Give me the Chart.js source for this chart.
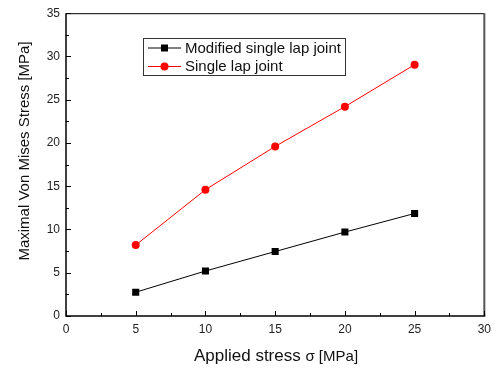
<!DOCTYPE html>
<html>
<head>
<meta charset="utf-8">
<script src="https://cdn.jsdelivr.net/npm/chart.js@4/dist/chart.umd.min.js"></script>
<style>
  html, body { margin: 0; padding: 0; background: #fff; }
  #wrap { width: 497px; height: 369px; }
</style>
</head>
<body>
<div id="wrap"><canvas id="c" width="497" height="369"></canvas></div>
<script>
// Applied stress levels [MPa]
const appliedStress = [5, 10, 15, 20, 25];
// Maximal von Mises stress [MPa] for each joint design
const modifiedJoint = [2.75, 5.2, 7.45, 9.7, 11.85];
const singleJoint = [8.2, 14.6, 19.6, 24.2, 29.05];
const seriesLabels = ['Modified single lap joint', 'Single lap joint'];
const xTitleMain = 'Applied stress ';
const xTitleUnit = '\u03c3 [MPa]';
const yTitle = 'Maximal Von Mises Stress [MPa]';

const FONT = "'Liberation Sans', Arial, sans-serif";

const toPoints = (ys) => ys.map((y, i) => ({ x: appliedStress[i], y }));

// Frame, inward ticks, axis titles and boxed legend
const decorations = {
  id: 'decorations',
  afterDraw(chart) {
    const ctx = chart.ctx;
    const { left, right, top, bottom } = chart.chartArea;
    const xs = chart.scales.x, ys = chart.scales.y;
    ctx.save();

    // frame
    ctx.strokeStyle = '#000';
    ctx.lineWidth = 1;
    ctx.beginPath();
    ctx.moveTo(left, top + 0.5); ctx.lineTo(right, top + 0.5);
    ctx.stroke();
    ctx.strokeStyle = '#555';
    ctx.lineWidth = 2;
    ctx.beginPath();
    ctx.moveTo(right, top); ctx.lineTo(right, bottom);
    ctx.stroke();
    ctx.strokeStyle = '#000';
    ctx.lineWidth = 1.5;
    ctx.beginPath();
    ctx.moveTo(left, top); ctx.lineTo(left, bottom);
    ctx.lineTo(right + 1, bottom);
    ctx.stroke();

    // inward ticks
    ctx.lineWidth = 1;
    ctx.beginPath();
    for (let v = 0; v <= 30.001; v += 2.5) {
      const px = Math.round(xs.getPixelForValue(v)) + 0.5;
      const len = (Math.abs(v % 5) < 1e-6) ? 5 : 3;
      ctx.moveTo(px, bottom); ctx.lineTo(px, bottom - len);
    }
    for (let v = 0; v <= 35.001; v += 2.5) {
      const py = Math.round(ys.getPixelForValue(v)) + 0.5;
      const len = (Math.abs(v % 5) < 1e-6) ? 5 : 3;
      ctx.moveTo(left, py); ctx.lineTo(left + len, py);
    }
    ctx.stroke();

    // y title
    ctx.fillStyle = '#111';
    ctx.font = '15px ' + FONT;
    ctx.textAlign = 'center';
    ctx.textBaseline = 'middle';
    ctx.save();
    ctx.translate(25, 151);
    ctx.rotate(-Math.PI / 2);
    ctx.fillText(yTitle, 0, 0);
    ctx.restore();

    // x title with smaller unit part
    ctx.textAlign = 'left';
    ctx.textBaseline = 'alphabetic';
    ctx.font = '17px ' + FONT;
    const w1 = ctx.measureText(xTitleMain).width;
    ctx.font = '15px ' + FONT;
    const w2 = ctx.measureText(xTitleUnit).width;
    let x0 = 276 - (w1 + w2) / 2;
    ctx.font = '17px ' + FONT;
    ctx.fillText(xTitleMain, x0, 361);
    ctx.font = '15px ' + FONT;
    ctx.fillText(xTitleUnit, x0 + w1, 361);

    // legend
    const bx = 143.5, by = 38.5, bw = 202, bh = 37;
    ctx.fillStyle = '#fff';
    ctx.fillRect(bx, by, bw, bh);
    ctx.strokeStyle = '#333';
    ctx.lineWidth = 1;
    ctx.strokeRect(bx, by, bw, bh);
    const rows = [48, 66.5];
    chart.data.datasets.forEach((ds, i) => {
      const cy = rows[i];
      ctx.strokeStyle = ds.borderColor;
      ctx.lineWidth = 1;
      ctx.beginPath();
      ctx.moveTo(148, cy); ctx.lineTo(181, cy);
      ctx.stroke();
      ctx.fillStyle = ds.pointBackgroundColor;
      if (ds.pointStyle === 'rect') {
        ctx.fillRect(161, cy - 3.5, 7, 7);
      } else {
        ctx.beginPath();
        ctx.arc(164.5, cy, 4, 0, Math.PI * 2);
        ctx.fill();
      }
      ctx.fillStyle = '#111';
      ctx.font = '15px ' + FONT;
      ctx.textBaseline = 'middle';
      ctx.fillText(ds.label, 185, cy + 0.5);
    });
    ctx.restore();
  }
};

new Chart(document.getElementById('c'), {
  type: 'scatter',
  data: {
    datasets: [
      {
        label: seriesLabels[0],
        data: toPoints(modifiedJoint),
        showLine: true,
        borderColor: '#000',
        backgroundColor: '#000',
        pointBackgroundColor: '#000',
        pointBorderColor: '#000',
        borderWidth: 1,
        pointStyle: 'rect',
        pointRadius: 5,
        pointBorderWidth: 0
      },
      {
        label: seriesLabels[1],
        data: toPoints(singleJoint),
        showLine: true,
        borderColor: '#ff0000',
        backgroundColor: '#ff0000',
        pointBackgroundColor: '#ff0000',
        pointBorderColor: '#ff0000',
        borderWidth: 1,
        pointStyle: 'circle',
        pointRadius: 4,
        pointBorderWidth: 0
      }
    ]
  },
  options: {
    responsive: false,
    animation: false,
    events: [],
    layout: { padding: { top: 10, right: 11, left: 0, bottom: 0 } },
    plugins: {
      legend: { display: false },
      tooltip: { enabled: false }
    },
    scales: {
      x: {
        type: 'linear',
        min: 0, max: 30,
        grid: { display: false, drawTicks: false },
        border: { display: false },
        ticks: {
          stepSize: 5,
          padding: 6,
          color: '#222',
          font: { family: FONT, size: 12 }
        },
        afterFit(scale) { scale.height = 369 - 316; }
      },
      y: {
        type: 'linear',
        min: 0, max: 35,
        grid: { display: false, drawTicks: false },
        border: { display: false },
        ticks: {
          stepSize: 5,
          padding: 6,
          color: '#222',
          font: { family: FONT, size: 12 }
        },
        afterFit(scale) { scale.width = 66; }
      }
    }
  },
  plugins: [decorations]
});
</script>
</body>
</html>
